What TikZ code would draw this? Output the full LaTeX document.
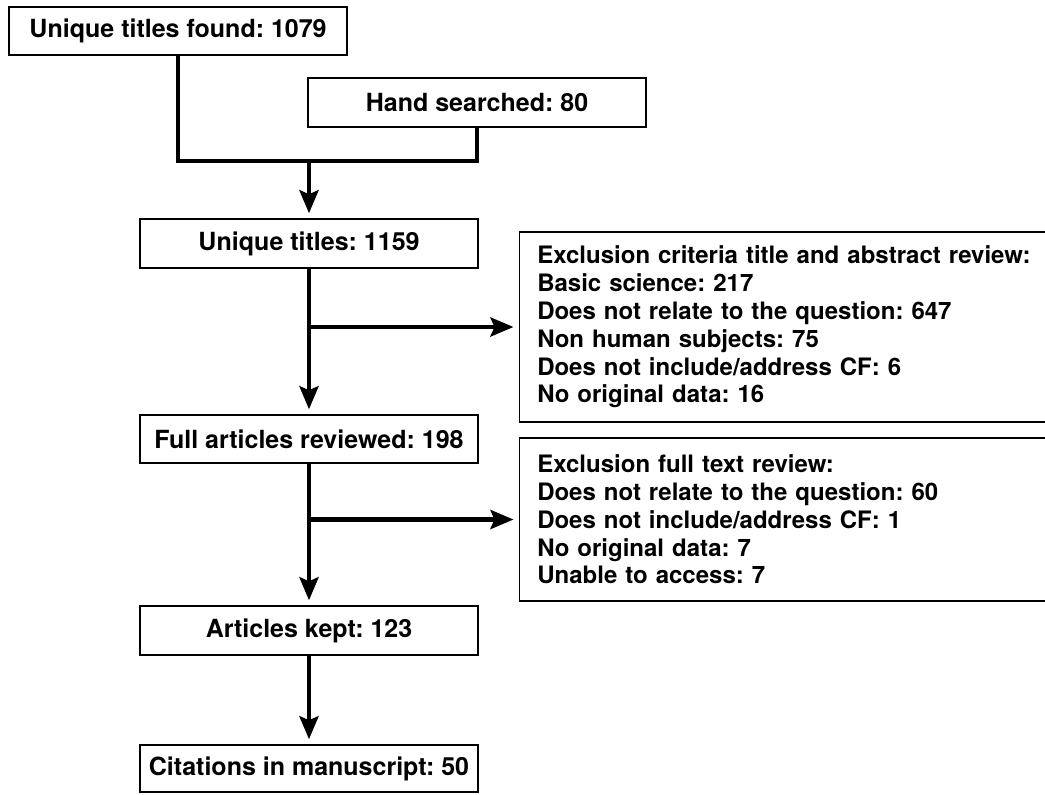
\documentclass[tikz,border=0pt]{standalone}
\usepackage{fontspec}
\setmainfont{TeX Gyre Heros}
\usetikzlibrary{arrows.meta}

\begin{document}
\frenchspacing
\begin{tikzpicture}[x = 0.5pt, y = -0.5pt]
\tikzstyle{BoxStyle}=[
shape = rectangle,
draw,
line width = 0.75pt,
inner sep = 0pt,
font = \bfseries\fontsize{12.5}{13.9}\selectfont]
\tikzstyle{StepBox}=[BoxStyle, minimum width = 169pt, minimum height = 24.5pt]
\tikzstyle{NoteBox}=[BoxStyle, anchor = west, align = left, text width = 258pt, inner xsep = 9pt,
font = \bfseries\fontsize{12}{13.9}\selectfont]
\tikzstyle{Flow}=[line width = 2.2pt]
\tikzstyle{FlowArrow}=[Flow, shorten > = 2.5pt, -{Stealth[length = 11.5pt, width = 9.5pt, inset = 2pt]}]
\useasboundingbox (0, 0) rectangle (1045, 794);
\node[StepBox, minimum height = 24pt] (found) at (178, 31) {Unique titles found: 1079};
\node[StepBox] (hand) at (477, 102.5) {Hand searched: 80};
\node[StepBox] (unique) at (309, 243.5) {Unique titles: 1159};
\node[StepBox, minimum height = 24pt] (full) at (309, 439) {Full articles reviewed: 198};
\node[StepBox] (kept) at (309, 630.5) {Articles kept: 123};
\node[StepBox, minimum height = 23.5pt] (cites) at (309, 768.5) {Citations in manuscript: 50};
\node[NoteBox, minimum height = 95pt] (excl1) at (518.5, 327) {Exclusion criteria title and abstract review:\\
Basic science: 217\\
Does not relate to the question: 647\\
Non human subjects: 75\\
Does not include/address CF: 6\\
No original data: 16};
\node[NoteBox, minimum height = 81.5pt] (excl2) at (518.5, 519.5) {Exclusion full text review:\\
Does not relate to the question: 60\\
Does not include/address CF: 1\\
No original data: 7\\
Unable to access: 7};
\coordinate (merge) at (309, 161);
\draw[Flow] (found.south) |- (merge) -| (hand.south);
\draw[FlowArrow] (merge) -- (unique.north);
\draw[FlowArrow] (unique.south) -- (full.north);
\draw[FlowArrow] (unique.south |- excl1.west) -- (excl1.west);
\draw[FlowArrow] (full.south) -- (kept.north);
\draw[FlowArrow] (full.south |- excl2.west) -- (excl2.west);
\draw[FlowArrow] (kept.south) -- (cites.north);
\end{tikzpicture}
\end{document}
